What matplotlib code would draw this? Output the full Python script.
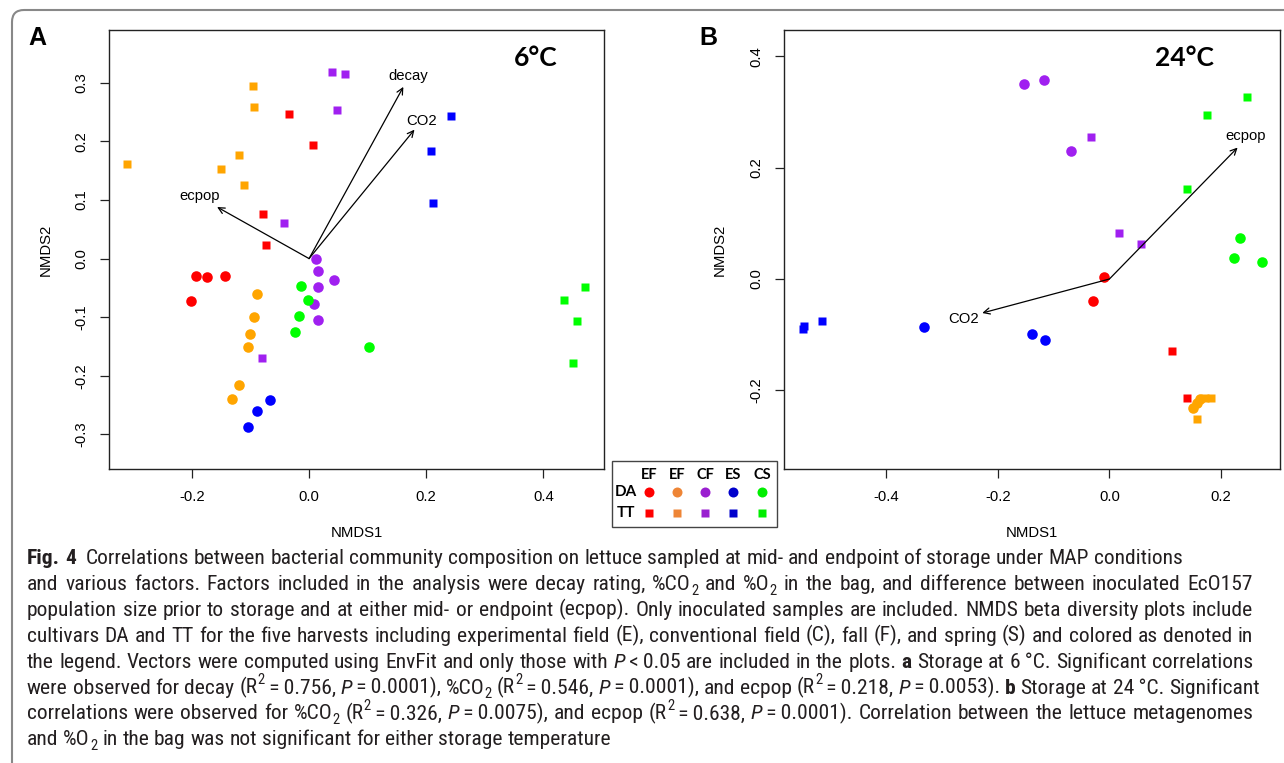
import numpy as np
import matplotlib
matplotlib.use('Agg')
import matplotlib.pyplot as plt
from matplotlib import font_manager
from matplotlib.font_manager import FontProperties
from matplotlib.path import Path
from matplotlib.patches import PathPatch, Rectangle
from matplotlib.lines import Line2D

W, H, DPI = 1284, 763, 100

# ---------------- data ----------------
groups = ['EF', 'EF', 'CF', 'ES', 'CS']
cultivars = ['DA', 'TT']
plot_colors = ['#FF0000', '#FFA500', '#A020F0', '#0000FF', '#00FF00']
legend_colors = ['#FF0000', '#EE8536', '#9A1FD0', '#0000CC', '#00EE00']

# Panel A (6 C): DA (circles) per group
A_DA_x = [[-0.193, -0.175, -0.144, -0.202],
          [-0.089, -0.094, -0.1005, -0.105, -0.119, -0.131],
          [0.011, 0.015, 0.015, 0.042, 0.009, 0.016],
          [-0.067, -0.089, -0.105],
          [-0.013, -0.002, -0.018, -0.024, 0.102]]
A_DA_y = [[-0.030, -0.032, -0.030, -0.072],
          [-0.061, -0.100, -0.129, -0.150, -0.215, -0.240],
          [0.000, -0.022, -0.049, -0.036, -0.078, -0.104],
          [-0.242, -0.260, -0.287],
          [-0.047, -0.070, -0.098, -0.125, -0.150]]
# Panel A: TT (squares)
A_TT_x = [[-0.035, 0.006, -0.078, -0.074],
          [-0.096, -0.094, -0.119, -0.150, -0.111, -0.310],
          [0.039, 0.061, 0.047, -0.042, -0.080],
          [0.242, 0.209, 0.212],
          [0.471, 0.436, 0.457, 0.450]]
A_TT_y = [[0.246, 0.193, 0.076, 0.023],
          [0.294, 0.258, 0.176, 0.153, 0.126, 0.162],
          [0.318, 0.315, 0.254, 0.060, -0.169],
          [0.244, 0.183, 0.095],
          [-0.049, -0.070, -0.106, -0.178]]
A_vec_names = ['decay', 'CO2', 'ecpop']
A_vec_x = [0.161, 0.180, -0.157]
A_vec_y = [0.293, 0.220, 0.088]
A_lab_x = [0.169, 0.192, -0.186]
A_lab_y = [0.311, 0.235, 0.106]

# Panel B (24 C)
B_DA_x = [[-0.009, -0.030],
          [0.150, 0.157, 0.163],
          [-0.153, -0.117, -0.068],
          [-0.332, -0.139, -0.116],
          [0.234, 0.223, 0.273]]
B_DA_y = [[0.003, -0.040],
          [-0.232, -0.222, -0.216],
          [0.350, 0.358, 0.230],
          [-0.086, -0.098, -0.109],
          [0.073, 0.037, 0.031]]
B_TT_x = [[0.112, 0.140],
          [0.158, 0.172, 0.183],
          [-0.033, 0.018, 0.057],
          [-0.549, -0.547, -0.515],
          [0.246, 0.175, 0.139]]
B_TT_y = [[-0.130, -0.214],
          [-0.252, -0.213, -0.213],
          [0.255, 0.082, 0.062],
          [-0.090, -0.085, -0.075],
          [0.327, 0.295, 0.162]]
B_vec_names = ['ecpop', 'CO2']
B_vec_x = [0.230, -0.228]
B_vec_y = [0.236, -0.061]
B_lab_x = [0.245, -0.261]
B_lab_y = [0.256, -0.071]

A_xticks = [-0.2, 0.0, 0.2, 0.4]
A_yticks = [-0.3, -0.2, -0.1, 0.0, 0.1, 0.2, 0.3]
B_xticks = [-0.4, -0.2, 0.0, 0.2]
B_yticks = [-0.2, 0.0, 0.2, 0.4]

caption = [
    [('Fig. 4', 'b'), ('  Correlations between bacterial community composition on lettuce sampled at mid- and endpoint of storage under MAP conditions', 'n')],
    [('and various factors. Factors included in the analysis were decay rating, %CO', 'n'), ('2', 'sub'),
     (' and %O', 'n'), ('2', 'sub'), (' in the bag, and difference between inoculated EcO157', 'n')],
    [('population size prior to storage and at either mid- or endpoint (ecpop). Only inoculated samples are included. NMDS beta diversity plots include', 'n')],
    [('cultivars DA and TT for the five harvests including experimental field (E), conventional field (C), fall (F), and spring (S) and colored as denoted in', 'n')],
    [('the legend. Vectors were computed using EnvFit and only those with ', 'n'), ('P', 'i'), ('\u2009<\u20090.05 are included in the plots. ', 'n'),
     ('a', 'b'), (' Storage at 6\u2009\u00b0C. Significant correlations', 'n')],
    [('were observed for decay (R', 'n'), ('2', 'sup'), ('\u2009=\u20090.756, ', 'n'), ('P', 'i'), ('\u2009=\u20090.0001), %CO', 'n'), ('2', 'sub'),
     (' (R', 'n'), ('2', 'sup'), ('\u2009=\u20090.546, ', 'n'), ('P', 'i'), ('\u2009=\u20090.0001), and ecpop (R', 'n'), ('2', 'sup'),
     ('\u2009=\u20090.218, ', 'n'), ('P', 'i'), ('\u2009=\u20090.0053). ', 'n'), ('b', 'b'), (' Storage at 24\u2009\u00b0C. Significant', 'n')],
    [('correlations were observed for %CO', 'n'), ('2', 'sub'), (' (R', 'n'), ('2', 'sup'), ('\u2009=\u20090.326, ', 'n'), ('P', 'i'),
     ('\u2009=\u20090.0075), and ecpop (R', 'n'), ('2', 'sup'), ('\u2009=\u20090.638, ', 'n'), ('P', 'i'),
     ('\u2009=\u20090.0001). Correlation between the lettuce metagenomes', 'n')],
    [('and %O', 'n'), ('2', 'sub'), (' in the bag was not significant for either storage temperature', 'n')],
]
caption_justified = [False, True, True, True, True, True, True, False]

# ---------------- fonts ----------------
names = {f.name for f in font_manager.fontManager.ttflist}
def pick(cands, default='DejaVu Sans'):
    for c in cands:
        if c in names:
            return c
    return default
axis_font = pick(['Liberation Sans', 'Arial', 'DejaVu Sans'])
title_font = pick(['Lato', 'Open Sans', 'Liberation Sans'])
cap_font = pick(['Liberation Sans Narrow', 'Roboto Condensed', 'Open Sans Condensed', 'Open Sans', 'Liberation Sans'])
plt.rcParams['font.family'] = [axis_font, 'DejaVu Sans']

fig = plt.figure(figsize=(W / DPI, H / DPI), dpi=DPI, facecolor='white')

def px_axes(l, t, r, b):
    return fig.add_axes([l / W, 1 - b / H, (r - l) / W, (b - t) / H])

def draw_panel(ax, DA_x, DA_y, TT_x, TT_y, vx, vy, lx, ly, vnames, xlim, ylim, xt, yt, title, tx, label_x):
    for i in range(len(groups)):
        ax.plot(DA_x[i], DA_y[i], 'o', ms=7.6, color=plot_colors[i], mec='none', zorder=3)
        ax.plot(TT_x[i], TT_y[i], 's', ms=6.4, color=plot_colors[i], mec='none', zorder=3)
    for k in range(len(vnames)):
        ax.annotate('', xy=(vx[k], vy[k]), xytext=(0, 0),
                    arrowprops=dict(arrowstyle='->,head_length=0.45,head_width=0.22', lw=0.9,
                                    color='black', shrinkA=0, shrinkB=0, mutation_scale=10), zorder=4)
        ax.text(lx[k], ly[k], vnames[k], ha='center', va='center', fontsize=10.7, color='black', zorder=5)
    ax.set_xlim(*xlim)
    ax.set_ylim(*ylim)
    ax.set_xticks(xt)
    ax.set_yticks(yt)
    ax.set_xticklabels(['%.1f' % v if v != 0 else '0.0' for v in xt])
    ax.set_yticklabels(['%.1f' % v if v != 0 else '0.0' for v in yt])
    for s in ax.spines.values():
        s.set_linewidth(1.0)
        s.set_color('#222222')
    ax.tick_params(direction='out', length=6.5, width=0.9, colors='#222222', labelcolor='black', labelsize=10.7)
    ax.tick_params(axis='x', pad=8.5)
    ax.tick_params(axis='y', pad=8.8, labelrotation=90)
    for lab in ax.get_yticklabels():
        lab.set_va('center')
    ax.set_xlabel('NMDS1', fontsize=10.7)
    ax.set_ylabel('NMDS2', fontsize=10.7)
    ax.xaxis.set_label_coords(0.5, -0.1458)
    ax.xaxis.label.set_va('center')
    ax.yaxis.set_label_coords(label_x, 0.5)
    ax.yaxis.label.set_va('center')
    ax.text(tx, 0.937, title, transform=ax.transAxes, ha='center', va='center',
            fontsize=19, fontweight='bold', family=[title_font, 'DejaVu Sans'])

axA = px_axes(109.3, 30, 604.3, 469)
axB = px_axes(784.3, 30, 1280, 469)
draw_panel(axA, A_DA_x, A_DA_y, A_TT_x, A_TT_y, A_vec_x, A_vec_y, A_lab_x, A_lab_y, A_vec_names,
           (-0.341, 0.504), (-0.359, 0.390), A_xticks, A_yticks, '6\u00b0C', 0.862, -0.1289)
draw_panel(axB, B_DA_x, B_DA_y, B_TT_x, B_TT_y, B_vec_x, B_vec_y, B_lab_x, B_lab_y, B_vec_names,
           (-0.583, 0.306), (-0.341, 0.447), B_xticks, B_yticks, '24\u00b0C', 0.808, -0.1297)

def fx(x):
    return x / W
def fy(y):
    return 1 - y / H

# panel letters
fig.text(fx(37.5), fy(38), 'A', ha='center', va='center', fontsize=18, fontweight='bold')
fig.text(fx(708), fy(38), 'B', ha='center', va='center', fontsize=18, fontweight='bold')

# legend
fig.add_artist(Rectangle((fx(611.7), fy(526.7)), (776.7 - 611.7) / W, (526.7 - 460.7) / H,
                         transform=fig.transFigure, fill=False, ec='#444444', lw=1.0))
col_x = [649, 677.3, 705.3, 733.3, 762.3]
row_y = [492.3, 512.7]
for i, g in enumerate(groups):
    fig.text(fx(col_x[i]), fy(475), g, ha='center', va='center', fontsize=10.5, fontweight='bold',
             family=[title_font, 'DejaVu Sans'])
    fig.add_artist(Line2D([fx(col_x[i])], [fy(row_y[0])], marker='o', ms=7.2, color=legend_colors[i],
                          mec='none', ls='none', transform=fig.transFigure))
    fig.add_artist(Line2D([fx(col_x[i])], [fy(row_y[1])], marker='s', ms=5.8, color=legend_colors[i],
                          mec='none', ls='none', transform=fig.transFigure))
for j, cv in enumerate(cultivars):
    fig.text(fx(626), fy(row_y[j]), cv, ha='center', va='center', fontsize=11, fontweight='bold',
             family=[title_font, 'DejaVu Sans'])

# outer frame (rounded top-left corner)
verts = [(fx(12), fy(763)), (fx(12), fy(22)), (fx(12), fy(10)), (fx(24), fy(10)), (fx(1284), fy(10))]
codes = [Path.MOVETO, Path.LINETO, Path.CURVE3, Path.CURVE3, Path.LINETO]
fig.add_artist(PathPatch(Path(verts, codes), fill=False, ec='#888888', lw=1.5, transform=fig.transFigure))

# caption
fig.canvas.draw()
rend = fig.canvas.get_renderer()

def fp_for(style, size):
    small = style in ('sub', 'sup')
    return FontProperties(family=[cap_font, 'DejaVu Sans'], size=size * (0.68 if small else 1.0),
                          weight='bold' if style == 'b' else 'normal',
                          style='italic' if style == 'i' else 'normal')

def seg_adv(s, fp):
    # pen advance of s, measured between two bar glyphs
    if s == '':
        return 0.0
    w1 = rend.get_text_width_height_descent('|' + s + '|', fp, ismath=False)[0]
    w0 = rend.get_text_width_height_descent('||', fp, ismath=False)[0]
    return w1 - w0

x0 = 27.0
targets = [1202.0 - x0] + [1253.0 - x0] * 6 + [None]
base = 10.0
widths = [sum(seg_adv(s, fp_for(st, base)) for s, st in line) for line in caption]
cap_size = min(base * targets[0] / widths[0], base * (targets[1] - 4) / max(widths[1:7]))
size_px = cap_size * DPI / 72.0

for li, line in enumerate(caption):
    baseline = 564.0 + 25.9 * li
    nat = sum(seg_adv(s, fp_for(st, cap_size)) for s, st in line)
    nspace = sum(s.count(' ') for s, st in line)
    extra = 0.0
    if caption_justified[li] and nspace > 0:
        extra = max(0.0, (targets[li] - nat) / nspace)
    x = x0
    for s, st in line:
        fp = fp_for(st, cap_size)
        dy = 0.0
        if st == 'sub':
            dy = 0.22 * size_px
        elif st == 'sup':
            dy = -0.42 * size_px
        parts = s.split(' ')
        sp = seg_adv(' ', fp)
        for k, part in enumerate(parts):
            if part:
                fig.text(fx(x), fy(baseline + dy), part, fontproperties=fp, ha='left', va='baseline',
                         color='#231f20')
                x += seg_adv(part, fp)
            if k < len(parts) - 1:
                x += sp + extra

fig.savefig('out.png', dpi=DPI, facecolor='white')
